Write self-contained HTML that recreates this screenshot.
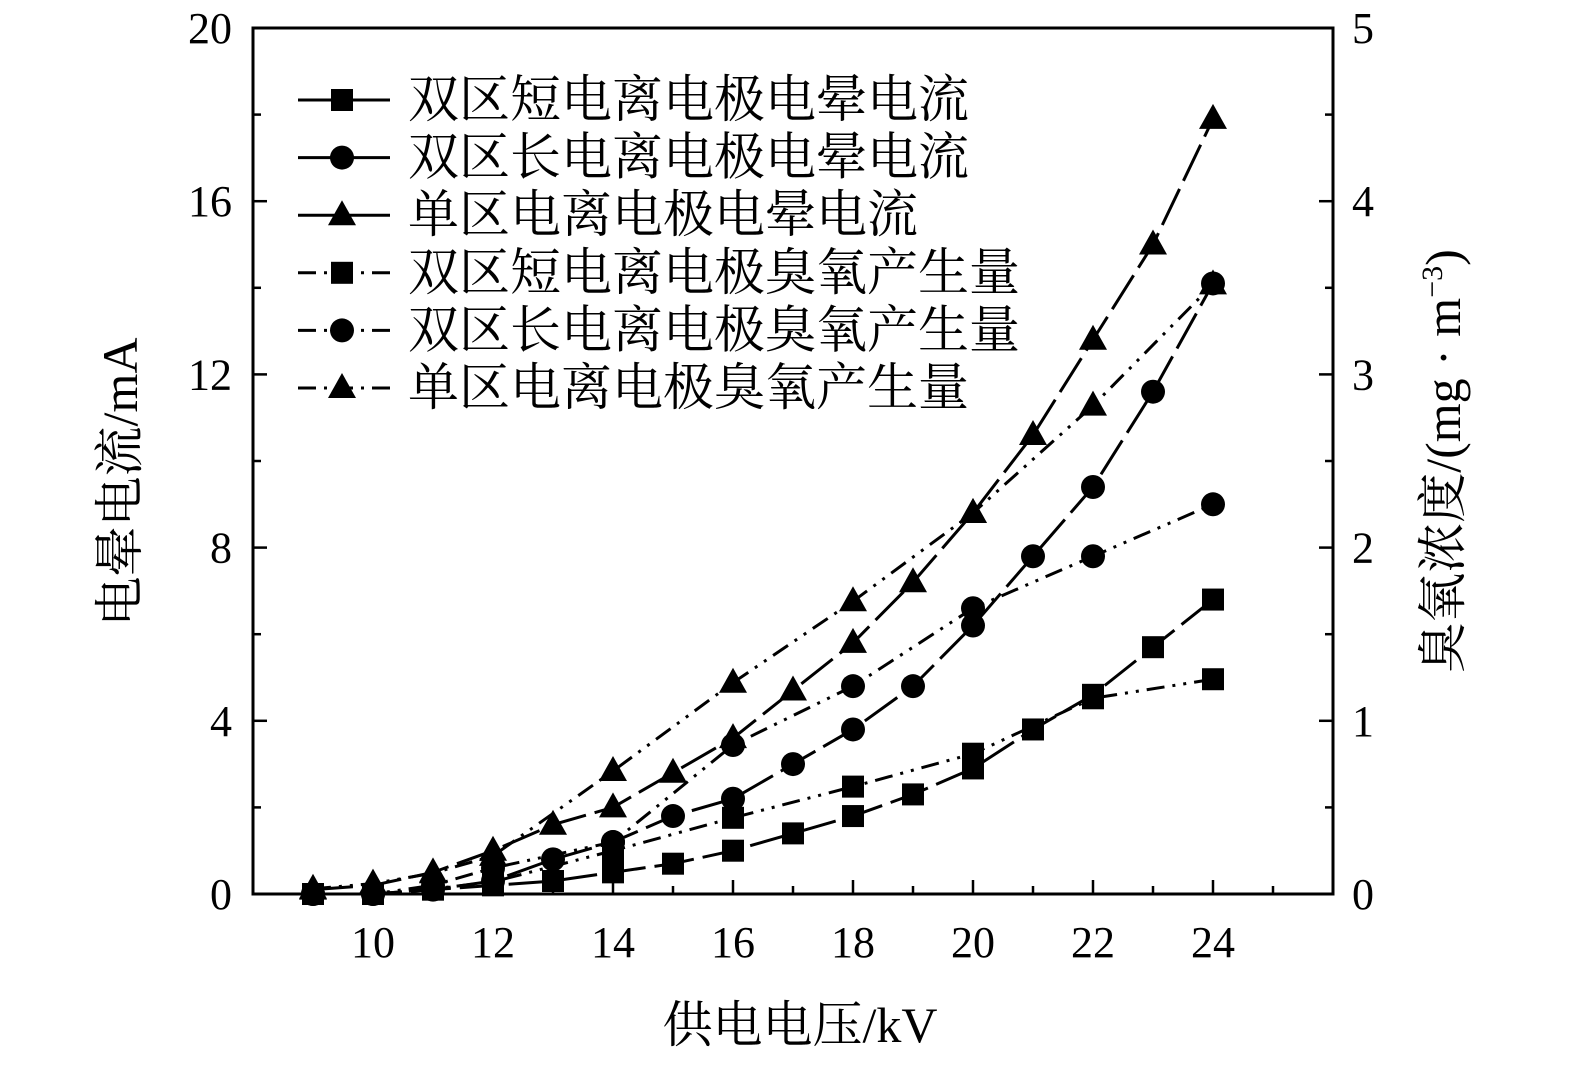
<!DOCTYPE html>
<html><head><meta charset="utf-8"><style>
body{margin:0;background:#fff}
svg text{font-family:"Liberation Serif","Noto Serif CJK SC",serif;fill:#000}
</style></head><body>
<svg id="c" width="1575" height="1063" xmlns="http://www.w3.org/2000/svg"></svg>
<script>
const xCats=[9,10,11,12,13,14,15,16,17,18,19,20,21,22,23,24];
const curShort=[0,0,0.1,0.2,0.3,0.5,0.7,1.0,1.4,1.8,2.3,2.9,3.8,4.6,5.7,6.8];
const curLong=[0,0,0.1,0.3,0.8,1.2,1.8,2.2,3.0,3.8,4.8,6.2,7.8,9.4,11.6,14.1];
const curSingle=[0.1,0.2,0.5,1.0,1.6,2.0,2.8,3.6,4.7,5.8,7.2,8.8,10.6,12.8,15.0,17.9];
const ozX=[9,10,11,12,14,16,18,20,22,24];
const ozShort=[0,0,0.03,0.07,0.25,0.44,0.62,0.81,1.13,1.24];
const ozLong=[0,0,0.05,0.15,0.3,0.86,1.2,1.65,1.95,2.25];
const ozSingle=[0.03,0.06,0.12,0.22,0.71,1.22,1.69,2.2,2.82,3.52];
const xTicks=[10,12,14,16,18,20,22,24];
const yTicks=[0,4,8,12,16,20];
const y2Ticks=[0,1,2,3,4,5];
const legendLabels=["双区短电离电极电晕电流","双区长电离电极电晕电流","单区电离电极电晕电流","双区短电离电极臭氧产生量","双区长电离电极臭氧产生量","单区电离电极臭氧产生量"];
const L=253,R=1333,T=28,B=894;
const sx=v=>L+(v-8)/18*(R-L);
const sy=v=>B-v/20*(B-T);
const sy2=v=>B-v/5*(B-T);
const svg=document.getElementById('c');
const NS='http://www.w3.org/2000/svg';
function mk(tag,attrs,parent){const e=document.createElementNS(NS,tag);for(const k in attrs)e.setAttribute(k,attrs[k]);(parent||svg).appendChild(e);return e;}
function marker(type,x,y,g){
 if(type==='sq') return mk('rect',{x:x-11,y:y-11,width:22,height:22,fill:'#000'},g);
 if(type==='ci') return mk('circle',{cx:x,cy:y,r:12,fill:'#000'},g);
 return mk('polygon',{points:`${x},${y-15} ${x-14},${y+10} ${x+14},${y+10}`,fill:'#000'},g);
}
const solidDash='40 9', ozDash='18 8 3 8 3 8';
const series=[
 {n:'series-short-current',xs:xCats,ys:curShort,f:sy,m:'sq',d:solidDash},
 {n:'series-long-current',xs:xCats,ys:curLong,f:sy,m:'ci',d:solidDash},
 {n:'series-single-current',xs:xCats,ys:curSingle,f:sy,m:'tr',d:solidDash},
 {n:'series-short-ozone',xs:ozX,ys:ozShort,f:sy2,m:'sq',d:ozDash},
 {n:'series-long-ozone',xs:ozX,ys:ozLong,f:sy2,m:'ci',d:ozDash},
 {n:'series-single-ozone',xs:ozX,ys:ozSingle,f:sy2,m:'tr',d:ozDash}];
const fr=mk('rect',{x:L,y:T,width:R-L,height:B-T,fill:'none',stroke:'#000','stroke-width':3});

for(let v=9;v<=25;v++){const maj=v%2===0;const t=mk('line',{x1:sx(v),x2:sx(v),y1:B,y2:B-(maj?14:8),stroke:'#000','stroke-width':2.5});
 }
xTicks.forEach(v=>{const t=mk('text',{x:sx(v),y:957,'font-size':44,'text-anchor':'middle'});t.textContent=v;
 });
for(let v=2;v<20;v+=2){[[L,1],[R,-1]].forEach(([x0,d])=>{const len=(v%4===0)?14:8;
 const t=mk('line',{x1:x0,x2:x0+d*len,y1:sy(v),y2:sy(v),stroke:'#000','stroke-width':2.5});
 });}
yTicks.forEach(v=>{const t=mk('text',{x:232,y:sy(v)+15,'font-size':44,'text-anchor':'end'});t.textContent=v;
 });
y2Ticks.forEach(v=>{const t=mk('text',{x:1352,y:sy2(v)+15,'font-size':44,'text-anchor':'start'});t.textContent=v;
 });
let t=mk('text',{x:800,y:1042,'font-size':50,'text-anchor':'middle'});t.textContent='供电电压/kV';

t=mk('text',{x:0,y:0,'font-size':50,'text-anchor':'middle',transform:'translate(137,482) rotate(-90)'});t.textContent='电晕电流/mA';

t=mk('text',{x:0,y:0,'font-size':50,'text-anchor':'middle',transform:'translate(1460,461) rotate(-90)'});
t.innerHTML='臭氧浓度/(mg · m<tspan dy="-18" font-size="30">−3</tspan><tspan dy="18">)</tspan>';

series.forEach(s=>{const g=mk('g',{});
 const pts=s.xs.map((x,i)=>sx(x)+','+s.f(s.ys[i])).join(' ');
 mk('polyline',{points:pts,fill:'none',stroke:'#000','stroke-width':3,'stroke-dasharray':s.d},g);
 s.xs.forEach((x,i)=>{const m=marker(s.m,sx(x),s.f(s.ys[i]),g);
  });});
const lg=mk('g',{});
legendLabels.forEach((lab,i)=>{const y=100+i*57.6;const s=series[i];
 const e=mk('g',{},lg);
 mk('line',{x1:298,x2:390,y1:y,y2:y,stroke:'#000','stroke-width':3,'stroke-dasharray':i<3?'none':'18 8 3 8'},e);
 marker(s.m,342,y,e);
 const tx=mk('text',{x:408,y:y+17,'font-size':51},e);tx.textContent=lab;});
</script>
</body></html>
